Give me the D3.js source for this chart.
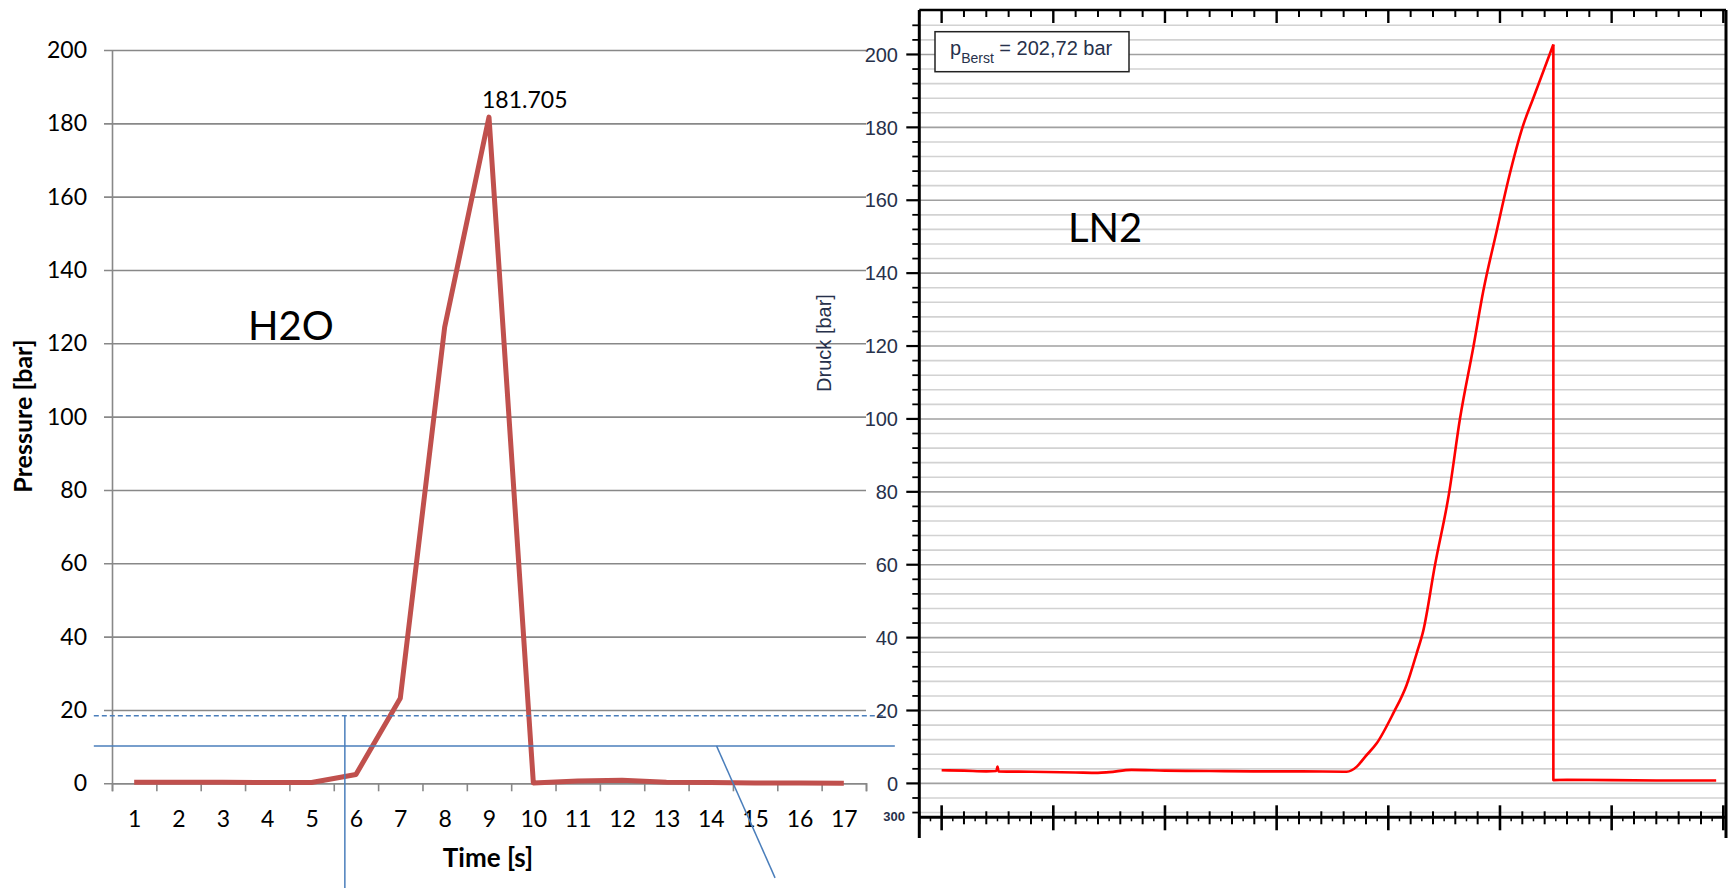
<!DOCTYPE html>
<html>
<head>
<meta charset="utf-8">
<script src="https://cdn.jsdelivr.net/npm/d3@7"></script>
<style>
  body { margin: 0; background: #fff; }
  svg { display: block; }
</style>
</head>
<body>
<svg id="chart" width="1728" height="888"></svg>
<script>
// left chart (H2O), one value per second
var timeCats = [1, 2, 3, 4, 5, 6, 7, 8, 9, 10, 11, 12, 13, 14, 15, 16, 17]
var h2oPressure = [0.3, 0.3, 0.3, 0.2, 0.2, 2.4, 23.2, 124.4, 181.705, 0.1, 0.6, 0.8, 0.3, 0.2, 0.1, 0.1, 0.0]
var leftTicks = [0, 20, 40, 60, 80, 100, 120, 140, 160, 180, 200]
var peakLabel = "181.705"

// blue annotation lines, in left chart units
var dashedLevel = 18.4
var solidLevel = 10.2
var markerX = [5.75]
var slantX = [14.13, 15.45]
var slantY = [10.2, -25.8]

// right chart (LN2)
var ln2Time = [0, 1, 2, 2.45, 2.5, 2.55, 4, 6, 7, 7.5, 8.5, 10, 12, 14, 16, 18.14, 18.59, 18.96, 19.48,
  20.22, 20.82, 21.27, 21.57, 22.09, 22.72, 23.21, 23.81, 24.25, 24.85, 25.37, 26.04, 26.49, 27.39,
  27.39, 28, 30, 32, 34.68]
var ln2Pressure = [3.6, 3.5, 3.3, 3.4, 4.6, 3.3, 3.2, 3.0, 2.9, 3.1, 3.7, 3.5, 3.4, 3.3, 3.3, 3.2, 4.6, 7.3, 11,
  19.2, 27, 35.7, 42, 59.9, 79.6, 100.1, 119.8, 135, 151.5, 165.5, 180.6, 188, 202.72,
  0.9, 1.0, 0.9, 0.8, 0.8]
var rightMajor = [0, 20, 40, 60, 80, 100, 120, 140, 160, 180, 200]
var rightMinor = d3.range(-8, 209, 4)
var xMinor = d3.range(-1, 36, 1)
var xTiny = d3.range(-0.5, 35.1, 1)

var svg = d3.select("#chart")

var calibri = "Lato, 'Open Sans', sans-serif"
var arial = "'Liberation Sans', Arial, sans-serif"
var navy = "#27314b"
var blue = "#4a7ebb"

// ---------- left chart ----------
var xL = d3.scaleLinear().domain([0.5, 17.5]).range([112, 866])
var yL = d3.scaleLinear().domain([0, 200]).range([783.3, 50])

var gy = svg.append("g")
  .attr("transform", "translate(112,0)")
  .call(d3.axisLeft(yL).tickValues(leftTicks).tickSize(-754).tickSizeOuter(0).tickPadding(25))
gy.selectAll(".tick line").attr("x1", -8).attr("stroke", "#888").attr("stroke-width", 1.6)
gy.select(".domain").attr("stroke", "#888").attr("stroke-width", 1.6)
gy.selectAll("text").attr("font-family", calibri).attr("font-size", 23).attr("fill", "#000")

var gx = svg.append("g")
  .attr("transform", "translate(0," + yL(0) + ")")
  .call(d3.axisBottom(xL).tickValues(d3.range(0.5, 17.6, 1)).tickSize(8).tickFormat(""))
gx.selectAll("line").attr("stroke", "#888").attr("stroke-width", 1.6)
gx.select(".domain").attr("stroke", "#888").attr("stroke-width", 1.6)

var gxl = svg.append("g")
  .attr("transform", "translate(0," + yL(0) + ")")
  .call(d3.axisBottom(xL).tickValues(timeCats).tickSize(0).tickPadding(27))
gxl.select(".domain").remove()
gxl.selectAll("text").attr("font-family", calibri).attr("font-size", 23).attr("fill", "#000")

svg.append("text")
  .attr("x", 488).attr("y", 867)
  .attr("text-anchor", "middle")
  .attr("font-family", calibri).attr("font-size", 26).attr("font-weight", "bold")
  .text("Time [s]")

svg.append("text")
  .attr("transform", "translate(32,416) rotate(-90)")
  .attr("text-anchor", "middle")
  .attr("font-family", calibri).attr("font-size", 25).attr("font-weight", "bold")
  .text("Pressure [bar]")

var h2oLine = d3.line()
  .x((d, i) => xL(timeCats[i]))
  .y(d => yL(d))

svg.append("path")
  .datum(h2oPressure)
  .attr("d", h2oLine)
  .attr("fill", "none")
  .attr("stroke", "#c0504d")
  .attr("stroke-width", 5)
  .attr("stroke-linejoin", "round")

svg.append("text")
  .attr("x", xL(9) - 7).attr("y", yL(181.705) - 9)
  .attr("font-family", calibri).attr("font-size", 23)
  .text(peakLabel)

svg.append("text")
  .attr("x", 248).attr("y", 340)
  .attr("font-family", calibri).attr("font-size", 40)
  .text("H2O")

// blue annotations
svg.append("line")
  .attr("x1", xL(0.09)).attr("x2", xL(17.88))
  .attr("y1", yL(dashedLevel)).attr("y2", yL(dashedLevel))
  .attr("stroke", blue).attr("stroke-width", 1.5).attr("stroke-dasharray", "5,3")
svg.append("line")
  .attr("x1", xL(0.09)).attr("x2", xL(18.15))
  .attr("y1", yL(solidLevel)).attr("y2", yL(solidLevel))
  .attr("stroke", blue).attr("stroke-width", 1.5)
svg.append("line")
  .attr("x1", xL(markerX[0])).attr("x2", xL(markerX[0]))
  .attr("y1", yL(dashedLevel)).attr("y2", yL(-28.6))
  .attr("stroke", blue).attr("stroke-width", 1.5)
svg.append("line")
  .attr("x1", xL(slantX[0])).attr("x2", xL(slantX[1]))
  .attr("y1", yL(slantY[0])).attr("y2", yL(slantY[1]))
  .attr("stroke", blue).attr("stroke-width", 1.5)

// ---------- right chart ----------
var xR = d3.scaleLinear().domain([-1, 35.12]).range([919.3, 1726])
var yR = d3.scaleLinear().domain([-9.3, 212.2]).range([817.3, 10])

svg.append("g").selectAll("line")
  .data(rightMinor)
  .join("line")
  .attr("x1", xR(-1)).attr("x2", xR(35.12))
  .attr("y1", d => yR(d)).attr("y2", d => yR(d))
  .attr("stroke", d => d % 20 == 0 ? "#a0a0a0" : "#d2d2d2")
  .attr("stroke-width", 1.6)

// left axis ticks
svg.append("g").selectAll("line")
  .data(rightMinor)
  .join("line")
  .attr("x1", d => d % 20 == 0 ? xR(-1) - 13 : xR(-1) - 7).attr("x2", xR(-1))
  .attr("y1", d => yR(d)).attr("y2", d => yR(d))
  .attr("stroke", "#000").attr("stroke-width", d => d % 20 == 0 ? 2.2 : 1.8)

svg.append("g").selectAll("text")
  .data(rightMajor)
  .join("text")
  .attr("x", 898).attr("y", d => yR(d))
  .attr("dy", "0.36em")
  .attr("text-anchor", "end")
  .attr("font-family", arial).attr("font-size", 20).attr("fill", navy)
  .text(d => d)

svg.append("text")
  .attr("x", 905).attr("y", yR(-9))
  .attr("dy", "0.36em")
  .attr("text-anchor", "end")
  .attr("font-family", arial).attr("font-size", 13).attr("font-weight", "bold").attr("fill", navy)
  .text("300")

svg.append("text")
  .attr("transform", "translate(831,343) rotate(-90)")
  .attr("text-anchor", "middle")
  .attr("font-family", arial).attr("font-size", 20).attr("fill", navy)
  .text("Druck [bar]")

// top axis ticks
svg.append("g").selectAll("line")
  .data(xMinor)
  .join("line")
  .attr("x1", d => xR(d)).attr("x2", d => xR(d))
  .attr("y1", yR(212.2)).attr("y2", d => d % 5 == 0 ? yR(212.2) + 13 : yR(212.2) + 7)
  .attr("stroke", "#000").attr("stroke-width", d => d % 5 == 0 ? 2.4 : 2)

// bottom axis ticks
svg.append("g").selectAll("line")
  .data(xMinor)
  .join("line")
  .attr("x1", d => xR(d)).attr("x2", d => xR(d))
  .attr("y1", d => d % 5 == 0 ? yR(-9.3) - 12 : yR(-9.3) - 6)
  .attr("y2", d => d % 5 == 0 ? yR(-9.3) + 13 : yR(-9.3) + 7)
  .attr("stroke", "#000").attr("stroke-width", d => d % 5 == 0 ? 2.6 : 2)
svg.append("g").selectAll("line")
  .data(xTiny)
  .join("line")
  .attr("x1", d => xR(d)).attr("x2", d => xR(d))
  .attr("y1", yR(-9.3)).attr("y2", yR(-9.3) + 4)
  .attr("stroke", "#000").attr("stroke-width", 1.5)

// frame
svg.append("line")
  .attr("x1", xR(-1)).attr("x2", xR(-1)).attr("y1", yR(212.2)).attr("y2", yR(-15))
  .attr("stroke", "#000").attr("stroke-width", 3)
svg.append("line")
  .attr("x1", xR(35.12)).attr("x2", xR(35.12)).attr("y1", yR(212.2)).attr("y2", yR(-15))
  .attr("stroke", "#000").attr("stroke-width", 3)
svg.append("line")
  .attr("x1", xR(-1)).attr("x2", xR(35.12)).attr("y1", yR(212.2)).attr("y2", yR(212.2))
  .attr("stroke", "#000").attr("stroke-width", 2.6)
svg.append("line")
  .attr("x1", xR(-1)).attr("x2", xR(35.12)).attr("y1", yR(-9.3)).attr("y2", yR(-9.3))
  .attr("stroke", "#000").attr("stroke-width", 3)

// trace: smooth rise up to the burst point, straight drop and tail after it
var ln2Points = ln2Time.map((t, i) => [t, ln2Pressure[i]])
var burstIdx = ln2Pressure.indexOf(d3.max(ln2Pressure))

var riseLine = d3.line()
  .x(d => xR(d[0]))
  .y(d => yR(d[1]))
  .curve(d3.curveMonotoneX)
var dropLine = d3.line()
  .x(d => xR(d[0]))
  .y(d => yR(d[1]))

svg.append("path")
  .datum(ln2Points.slice(0, burstIdx + 1))
  .attr("d", riseLine)
  .attr("fill", "none")
  .attr("stroke", "#ff0000")
  .attr("stroke-width", 2.6)
  .attr("stroke-linejoin", "round")

svg.append("path")
  .datum(ln2Points.slice(burstIdx))
  .attr("d", dropLine)
  .attr("fill", "none")
  .attr("stroke", "#ff0000")
  .attr("stroke-width", 2.6)
  .attr("stroke-linejoin", "round")

// burst pressure box
svg.append("rect")
  .attr("x", 935).attr("y", 31.7).attr("width", 194).attr("height", 40)
  .attr("fill", "#fff").attr("stroke", "#222").attr("stroke-width", 1.5)

var box = svg.append("text")
  .attr("x", 950).attr("y", 55)
  .attr("font-family", arial).attr("font-size", 20).attr("fill", navy)
box.append("tspan").text("p")
box.append("tspan").attr("font-size", 14).attr("dy", 8).text("Berst")
box.append("tspan").attr("dy", -8).text(" = 202,72 bar")

svg.append("text")
  .attr("x", 1068).attr("y", 242)
  .attr("font-family", calibri).attr("font-size", 40)
  .text("LN2")
</script>
</body>
</html>
